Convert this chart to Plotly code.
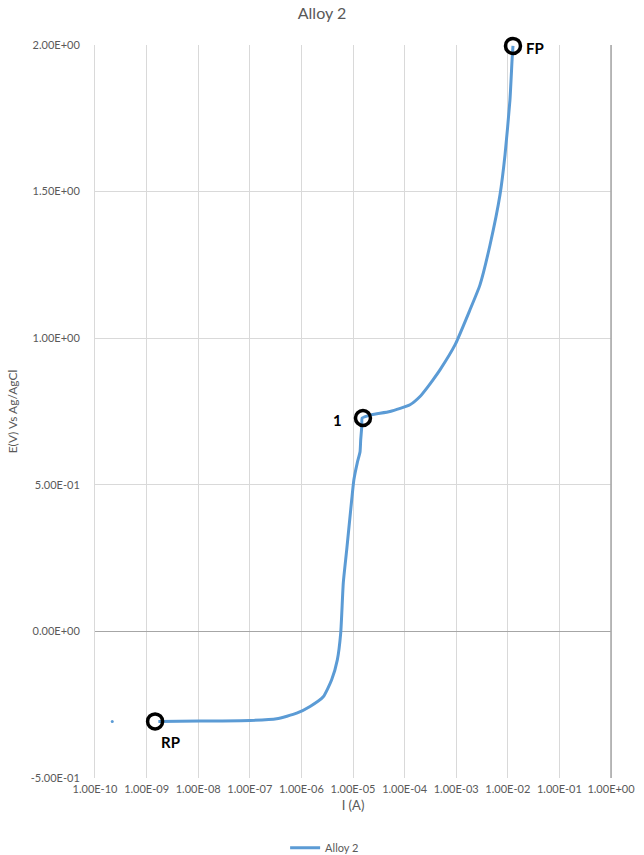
import math
import plotly.graph_objects as go

# Polarization curve, Alloy 2 (current in A, potential in V vs Ag/AgCl)
current_A = [
    1.69e-9, 1.08e-8, 1.01e-7, 3.32e-7, 8.11e-7, 1.47e-6, 2.65e-6, 3.86e-6,
    4.97e-6, 5.78e-6, 6.49e-6, 7.55e-6, 9.44e-6, 1.04e-5, 1.21e-5, 1.37e-5,
    1.41e-5, 1.48e-5, 1.51e-5, 2.30e-5, 5.21e-5, 1.27e-4, 1.99e-4, 2.84e-4,
    3.55e-4, 4.85e-4, 9.48e-4, 1.85e-3, 2.89e-3, 4.52e-3, 7.06e-3, 8.83e-3,
    1.10e-2, 1.21e-2, 1.26e-2,
]
potential_V = [
    -0.307, -0.306, -0.304, -0.298, -0.279, -0.256, -0.223, -0.165,
    -0.097, -0.005, 0.166, 0.278, 0.449, 0.517, 0.575, 0.613,
    0.653, 0.699, 0.728, 0.739, 0.750, 0.773, 0.801, 0.835,
    0.858, 0.892, 0.977, 1.097, 1.182, 1.318, 1.489, 1.625,
    1.812, 1.949, 1.997,
]

# Stray reading recorded before the sweep
stray_I = [2.16e-10]
stray_E = [-0.307]

# Marked points on the curve
mark_names = ["RP", "1", "FP"]
mark_I = [1.46e-9, 1.56e-5, 1.26e-2]
mark_E = [-0.307, 0.728, 1.997]
mark_dx = [15, -25, 22]
mark_dy = [-21, -2, -2]

x_tickvals = [1e-10, 1e-9, 1e-8, 1e-7, 1e-6, 1e-5, 1e-4, 1e-3, 1e-2, 1e-1, 1e0]
x_ticktext = ["1.00E-10", "1.00E-09", "1.00E-08", "1.00E-07", "1.00E-06",
              "1.00E-05", "1.00E-04", "1.00E-03", "1.00E-02", "1.00E-01",
              "1.00E+00"]
y_tickvals = [-0.5, 0.0, 0.5, 1.0, 1.5, 2.0]
y_ticktext = ["-5.00E-01", "0.00E+00", "5.00E-01", "1.00E+00", "1.50E+00",
              "2.00E+00"]

BLUE = "#5B9BD5"
GREY_TXT = "#595959"
FONT = "Lato"

fig = go.Figure()

fig.add_trace(go.Scatter(
    x=current_A, y=potential_V, mode="lines", name="Alloy 2",
    line=dict(color=BLUE, width=3, shape="spline", smoothing=0.5),
))
fig.add_trace(go.Scatter(
    x=stray_I, y=stray_E, mode="markers", showlegend=False,
    marker=dict(color=BLUE, size=3),
))
fig.add_trace(go.Scatter(
    x=mark_I, y=mark_E, mode="markers", showlegend=False, cliponaxis=False,
    marker=dict(symbol="circle-open", size=15, color="black",
                line=dict(color="black", width=3.5)),
))

# annotation x on a log axis is given in log10 units
for name, xi, yi, dx, dy in zip(mark_names, mark_I, mark_E, mark_dx, mark_dy):
    fig.add_annotation(
        x=math.log10(xi), y=yi, xref="x", yref="y", text="<b>%s</b>" % name,
        showarrow=False, xshift=dx, yshift=dy,
        font=dict(family=FONT, size=15, color="black"),
    )

fig.update_layout(
    width=644, height=855,
    margin=dict(l=95, r=33, t=45, b=77, autoexpand=False),
    paper_bgcolor="white", plot_bgcolor="white",
    font=dict(family=FONT, color=GREY_TXT),
    title=dict(text="Alloy 2", x=0.5, xanchor="center", y=0.984, yanchor="middle",
               font=dict(family=FONT, size=16, color=GREY_TXT)),
    showlegend=True,
    legend=dict(orientation="h", x=0.445, xanchor="center", y=-0.095,
                yanchor="middle", font=dict(family=FONT, size=11, color=GREY_TXT)),
    xaxis=dict(
        type="log", range=[-10, 0],
        tickvals=x_tickvals, ticktext=x_ticktext,
        tickfont=dict(family=FONT, size=11, color=GREY_TXT),
        showgrid=True, gridcolor="#d9d9d9", gridwidth=1,
        showline=False, zeroline=False, ticks="",
        ticklabelstandoff=3,
        title=dict(text="I (A)", font=dict(family=FONT, size=13, color=GREY_TXT),
                   standoff=6),
    ),
    yaxis=dict(
        range=[-0.5, 2.0],
        tickvals=y_tickvals, ticktext=y_ticktext,
        tickfont=dict(family=FONT, size=11, color=GREY_TXT),
        showgrid=True, gridcolor="#d9d9d9", gridwidth=1,
        zeroline=True, zerolinecolor="#a6a6a6", zerolinewidth=1,
        showline=True, mirror=True, linecolor="#d9d9d9", linewidth=1,
        ticks="", ticklabelstandoff=12,
        title=dict(text="E(V) Vs Ag/AgCl", font=dict(family=FONT, size=12, color=GREY_TXT),
                   standoff=10),
    ),
)

# darker right-hand frame edge
fig.add_shape(type="line", xref="paper", yref="paper", x0=1, x1=1, y0=0, y1=1,
              line=dict(color="#a6a6a6", width=1.5))

fig.write_html("out.html")
